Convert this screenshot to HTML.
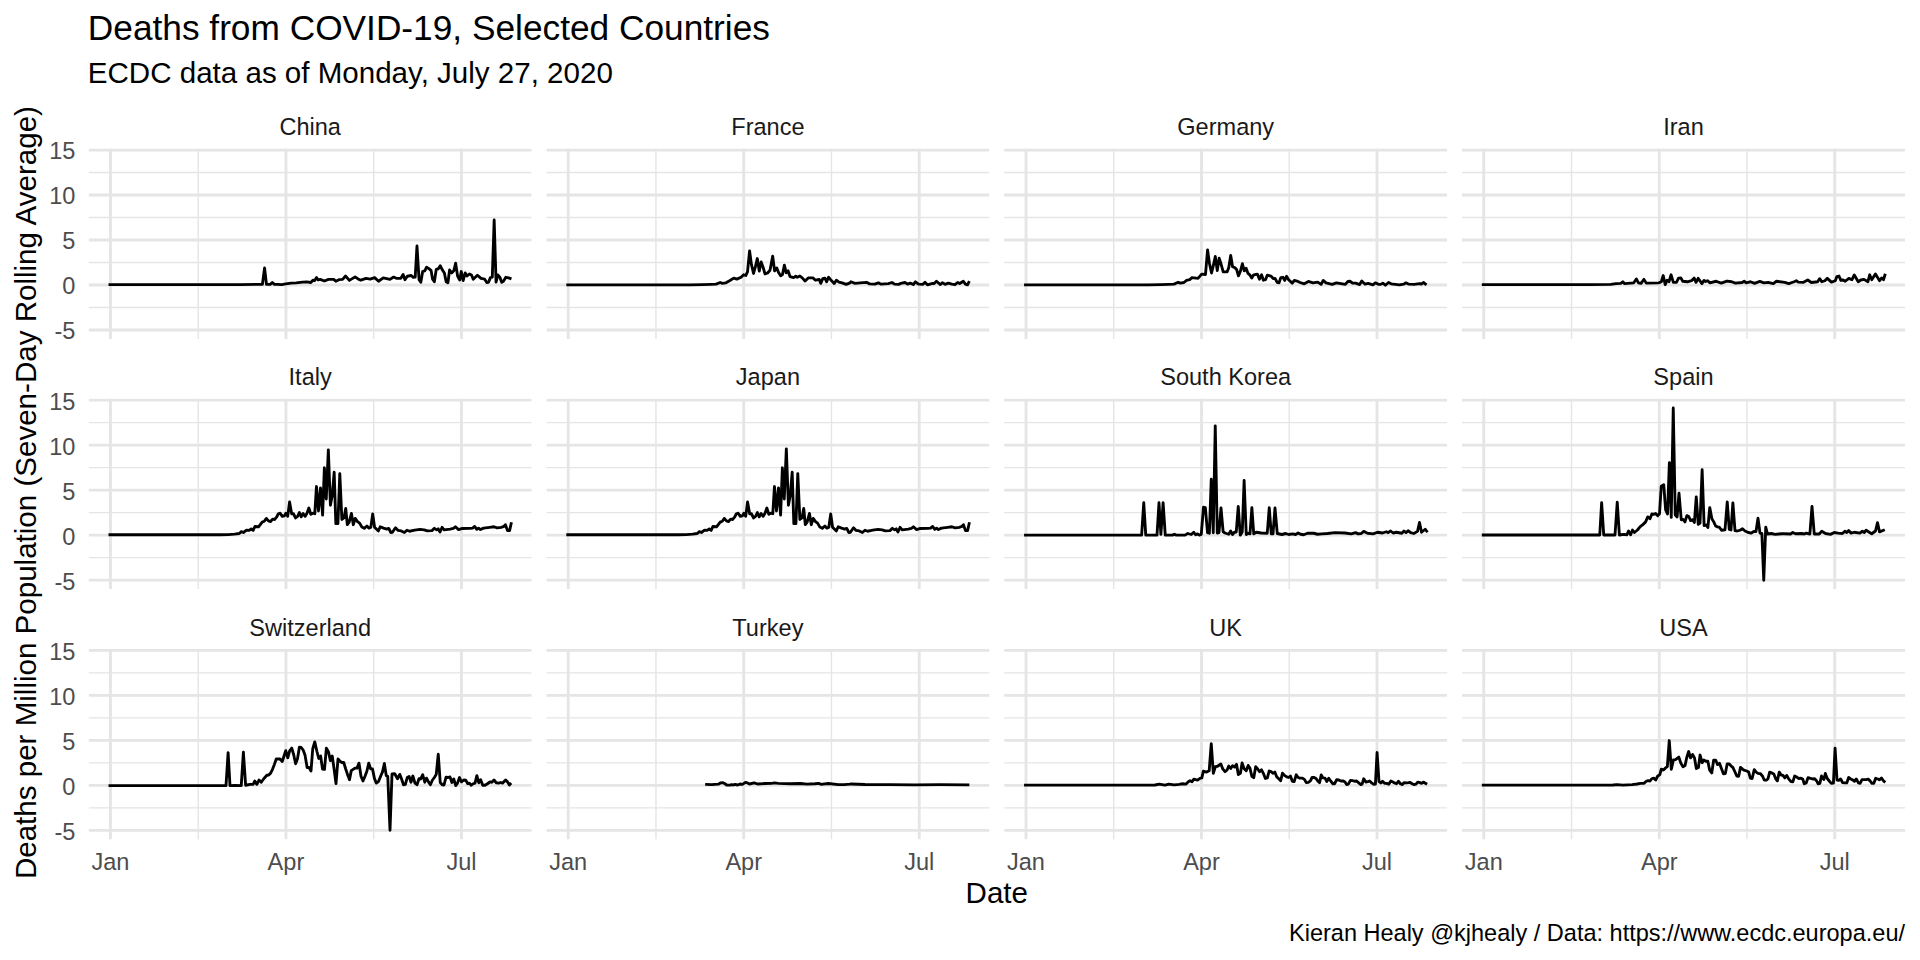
<!DOCTYPE html><html><head><meta charset="utf-8"><title>Deaths from COVID-19, Selected Countries</title>
<style>html,body{margin:0;padding:0;background:#fff}body{width:1920px;height:960px;overflow:hidden}svg{display:block}text{font-family:"Liberation Sans",Arial,Helvetica,sans-serif}</style></head><body>
<svg width="1920" height="960" viewBox="0 0 1920 960">
<rect width="1920" height="960" fill="#fff"/>
<text x="87.8" y="40" font-size="35.27" fill="#000">Deaths from COVID-19, Selected Countries</text>
<text x="87.8" y="83" font-size="29.55" fill="#000">ECDC data as of Monday, July 27, 2020</text>
<text transform="translate(36,492.6) rotate(-90)" text-anchor="middle" font-size="29.55" fill="#000">Deaths per Million Population (Seven-Day Rolling Average)</text>
<text x="996.8" y="902.7" text-anchor="middle" font-size="29.55" fill="#000">Date</text>
<text x="1905.0" y="941" text-anchor="end" font-size="23.52" fill="#000">Kieran Healy @kjhealy / Data: https://www.ecdc.europa.eu/</text>
<text x="75.4" y="159.35" text-anchor="end" font-size="23.55" fill="#4D4D4D">15</text>
<text x="75.4" y="204.35" text-anchor="end" font-size="23.55" fill="#4D4D4D">10</text>
<text x="75.4" y="249.35" text-anchor="end" font-size="23.55" fill="#4D4D4D">5</text>
<text x="75.4" y="294.35" text-anchor="end" font-size="23.55" fill="#4D4D4D">0</text>
<text x="75.4" y="339.35" text-anchor="end" font-size="23.55" fill="#4D4D4D">-5</text>
<g>
<clipPath id="cp0"><rect x="88.60" y="148.42" width="443.10" height="190.71"/></clipPath>
<g clip-path="url(#cp0)">
<line x1="88.60" x2="531.70" y1="172.45" y2="172.45" stroke="#E5E5E5" stroke-width="1.42"/>
<line x1="88.60" x2="531.70" y1="217.45" y2="217.45" stroke="#E5E5E5" stroke-width="1.42"/>
<line x1="88.60" x2="531.70" y1="262.45" y2="262.45" stroke="#E5E5E5" stroke-width="1.42"/>
<line x1="88.60" x2="531.70" y1="307.45" y2="307.45" stroke="#E5E5E5" stroke-width="1.42"/>
<line x1="198.20" x2="198.20" y1="148.42" y2="339.13" stroke="#E5E5E5" stroke-width="1.42"/>
<line x1="373.70" x2="373.70" y1="148.42" y2="339.13" stroke="#E5E5E5" stroke-width="1.42"/>
<line x1="88.60" x2="531.70" y1="149.95" y2="149.95" stroke="#E5E5E5" stroke-width="2.85"/>
<line x1="88.60" x2="531.70" y1="194.95" y2="194.95" stroke="#E5E5E5" stroke-width="2.85"/>
<line x1="88.60" x2="531.70" y1="239.95" y2="239.95" stroke="#E5E5E5" stroke-width="2.85"/>
<line x1="88.60" x2="531.70" y1="284.95" y2="284.95" stroke="#E5E5E5" stroke-width="2.85"/>
<line x1="88.60" x2="531.70" y1="329.95" y2="329.95" stroke="#E5E5E5" stroke-width="2.85"/>
<line x1="110.45" x2="110.45" y1="148.42" y2="339.13" stroke="#E5E5E5" stroke-width="2.85"/>
<line x1="285.95" x2="285.95" y1="148.42" y2="339.13" stroke="#E5E5E5" stroke-width="2.85"/>
<line x1="461.45" x2="461.45" y1="148.42" y2="339.13" stroke="#E5E5E5" stroke-width="2.85"/>
<polyline points="108.52,284.58 240.00,284.58 262.40,284.37 264.58,267.90 266.46,284.37 270.21,284.37 272.29,282.50 274.38,284.37 277.50,284.37 281.67,284.58 285.83,283.96 291.04,283.12 296.25,282.92 302.50,282.08 306.67,281.87 310.83,282.50 312.92,280.21 314.48,280.73 316.56,277.61 318.13,280.00 320.21,279.38 324.38,281.04 328.54,279.38 333.75,279.38 335.83,281.25 338.96,279.69 342.60,279.38 345.52,276.04 349.38,280.41 355.10,276.88 358.75,279.38 360.83,280.21 366.04,278.33 370.21,279.16 374.69,277.61 378.54,281.25 383.23,277.92 390.00,279.38 393.65,277.08 396.25,278.33 400.00,278.33 400.83,278.33 403.13,274.48 405.00,279.69 407.29,276.25 411.25,275.52 413.33,277.29 415.21,277.08 416.98,246.03 419.06,279.69 420.83,282.30 422.71,271.35 424.79,270.83 426.56,267.18 428.96,268.75 431.04,270.32 432.60,279.16 434.38,281.77 436.25,269.27 438.33,268.75 440.21,265.63 442.29,269.79 444.38,272.92 446.15,281.77 447.92,282.82 449.58,270.00 451.67,272.92 453.75,270.83 455.63,263.22 457.60,276.04 459.69,280.00 461.25,271.55 463.13,280.53 465.21,272.92 466.98,276.04 469.38,273.96 471.46,275.00 473.23,279.16 477.40,275.21 481.04,278.33 484.69,279.16 486.77,282.50 488.54,282.30 490.42,277.61 492.29,277.08 494.17,219.99 496.04,282.10 497.92,275.00 499.79,277.08 501.67,282.30 503.44,281.25 505.83,277.29 508.65,277.92 511.46,278.96" fill="none" stroke="#000" stroke-width="2.85" stroke-linejoin="round" stroke-linecap="butt"/>
</g>
<text x="310.15" y="134.82" text-anchor="middle" font-size="23.55" fill="#1A1A1A">China</text>
</g>
<g>
<clipPath id="cp1"><rect x="546.37" y="148.42" width="443.10" height="190.71"/></clipPath>
<g clip-path="url(#cp1)">
<line x1="546.37" x2="989.47" y1="172.45" y2="172.45" stroke="#E5E5E5" stroke-width="1.42"/>
<line x1="546.37" x2="989.47" y1="217.45" y2="217.45" stroke="#E5E5E5" stroke-width="1.42"/>
<line x1="546.37" x2="989.47" y1="262.45" y2="262.45" stroke="#E5E5E5" stroke-width="1.42"/>
<line x1="546.37" x2="989.47" y1="307.45" y2="307.45" stroke="#E5E5E5" stroke-width="1.42"/>
<line x1="655.97" x2="655.97" y1="148.42" y2="339.13" stroke="#E5E5E5" stroke-width="1.42"/>
<line x1="831.47" x2="831.47" y1="148.42" y2="339.13" stroke="#E5E5E5" stroke-width="1.42"/>
<line x1="546.37" x2="989.47" y1="149.95" y2="149.95" stroke="#E5E5E5" stroke-width="2.85"/>
<line x1="546.37" x2="989.47" y1="194.95" y2="194.95" stroke="#E5E5E5" stroke-width="2.85"/>
<line x1="546.37" x2="989.47" y1="239.95" y2="239.95" stroke="#E5E5E5" stroke-width="2.85"/>
<line x1="546.37" x2="989.47" y1="284.95" y2="284.95" stroke="#E5E5E5" stroke-width="2.85"/>
<line x1="546.37" x2="989.47" y1="329.95" y2="329.95" stroke="#E5E5E5" stroke-width="2.85"/>
<line x1="568.22" x2="568.22" y1="148.42" y2="339.13" stroke="#E5E5E5" stroke-width="2.85"/>
<line x1="743.72" x2="743.72" y1="148.42" y2="339.13" stroke="#E5E5E5" stroke-width="2.85"/>
<line x1="919.22" x2="919.22" y1="148.42" y2="339.13" stroke="#E5E5E5" stroke-width="2.85"/>
<polyline points="566.29,284.90 690.00,284.90 702.50,284.69 710.83,284.37 716.04,284.17 720.21,282.50 722.29,283.33 725.94,282.82 729.58,280.73 733.75,278.13 736.87,279.16 741.04,277.29 743.65,274.79 745.73,275.52 747.50,271.87 749.58,250.93 751.46,264.58 753.54,273.45 755.42,266.67 757.29,258.53 759.27,271.15 761.15,261.98 762.92,266.67 765.00,273.96 767.60,272.92 770.00,270.32 772.71,256.14 774.58,270.83 776.67,267.91 778.54,272.39 780.62,275.83 782.50,274.48 784.37,265.10 786.25,272.92 788.12,270.83 790.00,276.56 793.65,277.61 795.73,276.25 797.29,277.29 799.90,276.04 801.98,277.61 805.10,281.04 808.23,277.92 812.92,277.92 815.52,280.21 819.17,279.38 820.73,283.33 822.81,278.65 824.90,278.13 826.67,281.77 828.54,277.29 830.62,279.69 834.27,283.55 836.35,280.21 838.96,282.08 842.08,282.82 846.25,284.37 850.00,282.82 850.83,281.77 855.00,283.33 860.21,282.82 866.46,282.30 869.58,283.85 874.79,284.17 878.44,282.82 881.04,284.17 888.33,283.55 891.98,282.50 894.58,284.17 898.75,284.37 900.83,283.33 905.00,282.50 907.60,284.17 910.21,283.12 913.33,284.58 915.42,281.77 918.54,284.17 922.71,284.37 925.00,282.30 927.40,284.90 932.60,283.33 934.17,283.55 936.46,281.25 940.42,284.58 942.29,282.82 945.10,284.37 948.23,283.12 951.87,284.17 955.00,284.58 957.60,282.50 959.69,283.55 963.33,281.25 965.42,284.17 967.50,284.90 969.37,281.04" fill="none" stroke="#000" stroke-width="2.85" stroke-linejoin="round" stroke-linecap="butt"/>
</g>
<text x="767.92" y="134.82" text-anchor="middle" font-size="23.55" fill="#1A1A1A">France</text>
</g>
<g>
<clipPath id="cp2"><rect x="1004.14" y="148.42" width="443.10" height="190.71"/></clipPath>
<g clip-path="url(#cp2)">
<line x1="1004.14" x2="1447.24" y1="172.45" y2="172.45" stroke="#E5E5E5" stroke-width="1.42"/>
<line x1="1004.14" x2="1447.24" y1="217.45" y2="217.45" stroke="#E5E5E5" stroke-width="1.42"/>
<line x1="1004.14" x2="1447.24" y1="262.45" y2="262.45" stroke="#E5E5E5" stroke-width="1.42"/>
<line x1="1004.14" x2="1447.24" y1="307.45" y2="307.45" stroke="#E5E5E5" stroke-width="1.42"/>
<line x1="1113.74" x2="1113.74" y1="148.42" y2="339.13" stroke="#E5E5E5" stroke-width="1.42"/>
<line x1="1289.24" x2="1289.24" y1="148.42" y2="339.13" stroke="#E5E5E5" stroke-width="1.42"/>
<line x1="1004.14" x2="1447.24" y1="149.95" y2="149.95" stroke="#E5E5E5" stroke-width="2.85"/>
<line x1="1004.14" x2="1447.24" y1="194.95" y2="194.95" stroke="#E5E5E5" stroke-width="2.85"/>
<line x1="1004.14" x2="1447.24" y1="239.95" y2="239.95" stroke="#E5E5E5" stroke-width="2.85"/>
<line x1="1004.14" x2="1447.24" y1="284.95" y2="284.95" stroke="#E5E5E5" stroke-width="2.85"/>
<line x1="1004.14" x2="1447.24" y1="329.95" y2="329.95" stroke="#E5E5E5" stroke-width="2.85"/>
<line x1="1025.99" x2="1025.99" y1="148.42" y2="339.13" stroke="#E5E5E5" stroke-width="2.85"/>
<line x1="1201.49" x2="1201.49" y1="148.42" y2="339.13" stroke="#E5E5E5" stroke-width="2.85"/>
<line x1="1376.99" x2="1376.99" y1="148.42" y2="339.13" stroke="#E5E5E5" stroke-width="2.85"/>
<polyline points="1024.06,284.90 1148.00,284.90 1160.50,284.69 1168.83,284.37 1174.04,284.17 1178.21,282.30 1180.29,283.12 1183.94,282.50 1186.54,280.41 1189.67,279.69 1191.96,277.61 1198.00,278.33 1201.65,274.17 1205.50,274.48 1207.58,249.89 1209.46,263.54 1211.54,273.03 1213.42,265.11 1215.29,256.45 1217.27,270.63 1219.15,258.12 1220.92,263.54 1223.21,271.87 1227.17,271.87 1228.73,267.71 1230.71,255.41 1232.58,266.67 1234.98,267.71 1236.75,269.79 1238.42,275.83 1240.50,270.83 1242.37,263.74 1244.25,270.83 1246.12,268.23 1248.00,273.44 1250.08,275.21 1251.75,278.13 1253.73,274.79 1257.37,274.17 1259.46,279.16 1261.54,274.79 1263.42,280.21 1265.50,279.69 1267.27,275.21 1270.92,276.04 1273.52,278.65 1275.08,278.33 1277.17,282.30 1279.04,282.82 1280.81,277.61 1282.90,277.29 1284.67,280.41 1286.54,276.25 1288.62,279.69 1292.27,283.12 1294.35,280.41 1296.96,281.04 1300.08,282.50 1304.25,283.85 1308.00,281.77 1308.31,281.46 1313.00,282.82 1317.69,282.08 1321.12,284.37 1323.21,280.41 1326.02,282.82 1332.27,284.37 1336.44,282.82 1345.29,284.37 1347.90,281.46 1349.98,281.25 1352.58,283.12 1355.71,283.12 1359.67,284.58 1361.75,281.04 1365.08,284.17 1368.21,283.33 1372.90,284.90 1375.29,282.82 1378.62,284.37 1380.71,284.37 1382.79,283.12 1385.40,285.21 1388.52,282.50 1391.12,283.85 1399.46,284.90 1403.62,284.17 1405.92,282.82 1408.83,284.17 1414.04,284.37 1419.77,283.55 1421.33,284.17 1423.42,282.50 1426.54,284.90" fill="none" stroke="#000" stroke-width="2.85" stroke-linejoin="round" stroke-linecap="butt"/>
</g>
<text x="1225.69" y="134.82" text-anchor="middle" font-size="23.55" fill="#1A1A1A">Germany</text>
</g>
<g>
<clipPath id="cp3"><rect x="1461.91" y="148.42" width="443.10" height="190.71"/></clipPath>
<g clip-path="url(#cp3)">
<line x1="1461.91" x2="1905.01" y1="172.45" y2="172.45" stroke="#E5E5E5" stroke-width="1.42"/>
<line x1="1461.91" x2="1905.01" y1="217.45" y2="217.45" stroke="#E5E5E5" stroke-width="1.42"/>
<line x1="1461.91" x2="1905.01" y1="262.45" y2="262.45" stroke="#E5E5E5" stroke-width="1.42"/>
<line x1="1461.91" x2="1905.01" y1="307.45" y2="307.45" stroke="#E5E5E5" stroke-width="1.42"/>
<line x1="1571.51" x2="1571.51" y1="148.42" y2="339.13" stroke="#E5E5E5" stroke-width="1.42"/>
<line x1="1747.01" x2="1747.01" y1="148.42" y2="339.13" stroke="#E5E5E5" stroke-width="1.42"/>
<line x1="1461.91" x2="1905.01" y1="149.95" y2="149.95" stroke="#E5E5E5" stroke-width="2.85"/>
<line x1="1461.91" x2="1905.01" y1="194.95" y2="194.95" stroke="#E5E5E5" stroke-width="2.85"/>
<line x1="1461.91" x2="1905.01" y1="239.95" y2="239.95" stroke="#E5E5E5" stroke-width="2.85"/>
<line x1="1461.91" x2="1905.01" y1="284.95" y2="284.95" stroke="#E5E5E5" stroke-width="2.85"/>
<line x1="1461.91" x2="1905.01" y1="329.95" y2="329.95" stroke="#E5E5E5" stroke-width="2.85"/>
<line x1="1483.76" x2="1483.76" y1="148.42" y2="339.13" stroke="#E5E5E5" stroke-width="2.85"/>
<line x1="1659.26" x2="1659.26" y1="148.42" y2="339.13" stroke="#E5E5E5" stroke-width="2.85"/>
<line x1="1834.76" x2="1834.76" y1="148.42" y2="339.13" stroke="#E5E5E5" stroke-width="2.85"/>
<polyline points="1481.83,284.58 1590.00,284.58 1610.83,284.37 1616.04,283.55 1620.73,283.33 1622.81,281.77 1624.38,283.55 1633.75,282.82 1636.35,278.96 1638.44,282.82 1641.04,283.33 1643.96,279.38 1646.25,283.12 1658.75,282.82 1661.35,281.77 1663.23,275.52 1665.21,284.58 1667.08,280.21 1668.96,281.77 1671.04,274.79 1673.33,282.30 1676.46,282.30 1678.54,278.13 1680.83,277.92 1682.71,281.25 1687.40,281.77 1691.56,280.73 1694.17,278.13 1696.04,282.30 1698.13,278.33 1701.98,283.55 1704.06,280.41 1705.63,281.46 1707.71,280.73 1709.79,282.82 1716.04,281.25 1721.25,283.12 1726.98,281.04 1731.67,281.77 1735.31,283.12 1742.08,282.50 1744.17,281.25 1746.25,282.82 1750.00,281.77 1750.42,281.77 1754.58,283.33 1759.79,281.46 1763.96,282.82 1768.13,282.30 1773.33,283.55 1776.46,281.25 1784.79,282.30 1788.75,283.55 1794.17,281.77 1796.25,280.73 1798.33,282.08 1803.54,282.30 1807.71,280.00 1811.35,282.50 1817.60,281.77 1819.69,278.65 1821.77,281.77 1824.90,280.73 1827.29,278.33 1831.46,282.08 1835.31,280.73 1836.88,276.56 1838.96,276.04 1840.83,280.41 1843.13,280.00 1845.21,281.25 1848.85,278.33 1851.98,279.69 1854.27,275.00 1858.23,281.77 1860.83,280.00 1863.96,279.38 1867.92,281.77 1869.69,274.79 1871.77,279.69 1875.42,273.96 1879.58,280.73 1881.67,277.92 1883.54,279.69 1885.31,273.75" fill="none" stroke="#000" stroke-width="2.85" stroke-linejoin="round" stroke-linecap="butt"/>
</g>
<text x="1683.46" y="134.82" text-anchor="middle" font-size="23.55" fill="#1A1A1A">Iran</text>
</g>
<text x="75.4" y="409.55" text-anchor="end" font-size="23.55" fill="#4D4D4D">15</text>
<text x="75.4" y="454.55" text-anchor="end" font-size="23.55" fill="#4D4D4D">10</text>
<text x="75.4" y="499.55" text-anchor="end" font-size="23.55" fill="#4D4D4D">5</text>
<text x="75.4" y="544.55" text-anchor="end" font-size="23.55" fill="#4D4D4D">0</text>
<text x="75.4" y="589.55" text-anchor="end" font-size="23.55" fill="#4D4D4D">-5</text>
<g>
<clipPath id="cp4"><rect x="88.60" y="398.62" width="443.10" height="190.71"/></clipPath>
<g clip-path="url(#cp4)">
<line x1="88.60" x2="531.70" y1="422.65" y2="422.65" stroke="#E5E5E5" stroke-width="1.42"/>
<line x1="88.60" x2="531.70" y1="467.65" y2="467.65" stroke="#E5E5E5" stroke-width="1.42"/>
<line x1="88.60" x2="531.70" y1="512.65" y2="512.65" stroke="#E5E5E5" stroke-width="1.42"/>
<line x1="88.60" x2="531.70" y1="557.65" y2="557.65" stroke="#E5E5E5" stroke-width="1.42"/>
<line x1="198.20" x2="198.20" y1="398.62" y2="589.33" stroke="#E5E5E5" stroke-width="1.42"/>
<line x1="373.70" x2="373.70" y1="398.62" y2="589.33" stroke="#E5E5E5" stroke-width="1.42"/>
<line x1="88.60" x2="531.70" y1="400.15" y2="400.15" stroke="#E5E5E5" stroke-width="2.85"/>
<line x1="88.60" x2="531.70" y1="445.15" y2="445.15" stroke="#E5E5E5" stroke-width="2.85"/>
<line x1="88.60" x2="531.70" y1="490.15" y2="490.15" stroke="#E5E5E5" stroke-width="2.85"/>
<line x1="88.60" x2="531.70" y1="535.15" y2="535.15" stroke="#E5E5E5" stroke-width="2.85"/>
<line x1="88.60" x2="531.70" y1="580.15" y2="580.15" stroke="#E5E5E5" stroke-width="2.85"/>
<line x1="110.45" x2="110.45" y1="398.62" y2="589.33" stroke="#E5E5E5" stroke-width="2.85"/>
<line x1="285.95" x2="285.95" y1="398.62" y2="589.33" stroke="#E5E5E5" stroke-width="2.85"/>
<line x1="461.45" x2="461.45" y1="398.62" y2="589.33" stroke="#E5E5E5" stroke-width="2.85"/>
<polyline points="108.52,534.79 220.00,534.79 228.33,534.58 234.58,534.06 239.27,533.54 241.35,531.67 243.44,532.50 246.56,530.21 249.17,530.42 251.25,528.85 253.13,530.42 254.90,526.46 258.54,526.77 262.19,522.08 264.27,521.25 266.35,518.44 268.44,520.83 270.52,521.56 272.60,519.17 274.69,519.48 276.77,516.87 278.33,513.75 280.21,513.23 282.29,516.36 284.38,515.84 285.83,513.23 287.71,516.36 289.58,501.97 291.67,513.75 293.44,513.75 295.52,517.91 297.60,516.36 299.38,512.50 301.25,516.87 303.13,513.54 305.21,516.36 306.98,513.23 308.85,508.02 310.83,514.27 312.92,513.23 314.79,513.75 316.46,486.55 318.44,510.95 320.52,487.91 322.60,515.12 324.38,467.80 326.25,498.97 328.33,449.88 330.42,505.22 332.29,495.00 334.17,472.28 335.83,523.65 337.92,523.65 339.79,473.63 341.88,519.48 343.96,517.91 345.73,508.43 347.29,524.69 349.17,522.08 351.46,513.42 353.33,524.69 355.21,518.44 357.50,521.56 359.58,523.13 361.88,527.09 364.27,528.34 366.88,526.04 368.96,528.12 370.83,527.29 372.71,513.95 374.58,527.29 378.33,530.94 380.21,526.77 383.54,528.12 386.67,529.16 388.75,528.34 390.83,532.50 392.40,532.29 395.52,527.81 398.13,530.42 401.25,530.94 404.38,532.50 406.98,530.21 409.58,531.25 414.79,530.21 420.00,529.37 424.17,529.89 427.29,530.94 431.98,530.62 434.38,528.34 436.67,529.89 438.23,528.85 440.00,531.98 442.08,527.29 444.17,529.89 450.21,529.16 453.33,528.34 455.42,526.77 458.54,529.58 461.67,528.54 470.00,528.34 472.60,528.12 474.69,526.46 476.77,529.37 478.54,528.12 480.42,529.58 483.54,528.12 489.79,527.29 493.96,526.77 497.08,527.81 501.25,527.29 503.85,526.46 505.42,524.69 507.50,530.62 509.58,530.62 511.46,522.29" fill="none" stroke="#000" stroke-width="2.85" stroke-linejoin="round" stroke-linecap="butt"/>
</g>
<text x="310.15" y="385.02" text-anchor="middle" font-size="23.55" fill="#1A1A1A">Italy</text>
</g>
<g>
<clipPath id="cp5"><rect x="546.37" y="398.62" width="443.10" height="190.71"/></clipPath>
<g clip-path="url(#cp5)">
<line x1="546.37" x2="989.47" y1="422.65" y2="422.65" stroke="#E5E5E5" stroke-width="1.42"/>
<line x1="546.37" x2="989.47" y1="467.65" y2="467.65" stroke="#E5E5E5" stroke-width="1.42"/>
<line x1="546.37" x2="989.47" y1="512.65" y2="512.65" stroke="#E5E5E5" stroke-width="1.42"/>
<line x1="546.37" x2="989.47" y1="557.65" y2="557.65" stroke="#E5E5E5" stroke-width="1.42"/>
<line x1="655.97" x2="655.97" y1="398.62" y2="589.33" stroke="#E5E5E5" stroke-width="1.42"/>
<line x1="831.47" x2="831.47" y1="398.62" y2="589.33" stroke="#E5E5E5" stroke-width="1.42"/>
<line x1="546.37" x2="989.47" y1="400.15" y2="400.15" stroke="#E5E5E5" stroke-width="2.85"/>
<line x1="546.37" x2="989.47" y1="445.15" y2="445.15" stroke="#E5E5E5" stroke-width="2.85"/>
<line x1="546.37" x2="989.47" y1="490.15" y2="490.15" stroke="#E5E5E5" stroke-width="2.85"/>
<line x1="546.37" x2="989.47" y1="535.15" y2="535.15" stroke="#E5E5E5" stroke-width="2.85"/>
<line x1="546.37" x2="989.47" y1="580.15" y2="580.15" stroke="#E5E5E5" stroke-width="2.85"/>
<line x1="568.22" x2="568.22" y1="398.62" y2="589.33" stroke="#E5E5E5" stroke-width="2.85"/>
<line x1="743.72" x2="743.72" y1="398.62" y2="589.33" stroke="#E5E5E5" stroke-width="2.85"/>
<line x1="919.22" x2="919.22" y1="398.62" y2="589.33" stroke="#E5E5E5" stroke-width="2.85"/>
<polyline points="566.29,534.79 678.00,534.79 686.33,534.58 692.58,534.06 697.27,533.54 699.35,531.67 701.44,532.50 704.56,530.21 707.17,530.42 709.25,528.85 711.12,530.42 712.90,526.46 716.54,526.77 720.19,522.08 722.27,521.25 724.35,518.44 726.44,520.83 728.52,521.56 730.60,519.17 732.69,519.48 734.77,516.87 736.33,513.75 738.21,513.23 740.29,516.36 742.37,515.84 743.83,513.23 745.71,516.36 747.58,501.97 749.67,513.75 751.44,513.75 753.52,517.91 755.60,516.36 757.37,512.50 759.25,516.87 761.12,513.54 763.21,516.36 764.98,513.23 766.85,508.02 768.83,514.27 770.92,513.23 772.79,513.75 774.46,486.55 776.44,510.95 778.52,487.91 780.60,515.12 782.37,467.80 784.25,498.97 786.33,448.85 788.42,505.22 790.29,495.00 792.17,472.28 793.83,523.65 795.92,523.65 797.79,473.63 799.87,519.48 801.96,517.91 803.73,508.43 805.29,524.69 807.17,522.08 809.46,513.42 811.33,524.69 813.21,518.44 815.50,521.56 817.58,523.13 819.87,527.09 822.27,528.34 824.87,526.04 826.96,528.12 828.83,527.29 830.71,513.95 832.58,527.29 836.33,530.94 838.21,526.77 841.54,528.12 844.67,529.16 846.75,528.34 848.83,532.50 850.40,532.29 853.52,527.81 856.12,530.42 859.25,530.94 862.37,532.50 864.98,530.21 867.58,531.25 872.79,530.21 878.00,529.37 882.17,529.89 885.29,530.94 889.98,530.62 892.37,528.34 894.67,529.89 896.23,528.85 898.00,531.98 900.08,527.29 902.17,529.89 908.21,529.16 911.33,528.34 913.42,526.77 916.54,529.58 919.67,528.54 928.00,528.34 930.60,528.12 932.69,526.46 934.77,529.37 936.54,528.12 938.42,529.58 941.54,528.12 947.79,527.29 951.96,526.77 955.08,527.81 959.25,527.29 961.85,526.46 963.42,524.69 965.50,530.62 967.58,530.62 969.46,522.29" fill="none" stroke="#000" stroke-width="2.85" stroke-linejoin="round" stroke-linecap="butt"/>
</g>
<text x="767.92" y="385.02" text-anchor="middle" font-size="23.55" fill="#1A1A1A">Japan</text>
</g>
<g>
<clipPath id="cp6"><rect x="1004.14" y="398.62" width="443.10" height="190.71"/></clipPath>
<g clip-path="url(#cp6)">
<line x1="1004.14" x2="1447.24" y1="422.65" y2="422.65" stroke="#E5E5E5" stroke-width="1.42"/>
<line x1="1004.14" x2="1447.24" y1="467.65" y2="467.65" stroke="#E5E5E5" stroke-width="1.42"/>
<line x1="1004.14" x2="1447.24" y1="512.65" y2="512.65" stroke="#E5E5E5" stroke-width="1.42"/>
<line x1="1004.14" x2="1447.24" y1="557.65" y2="557.65" stroke="#E5E5E5" stroke-width="1.42"/>
<line x1="1113.74" x2="1113.74" y1="398.62" y2="589.33" stroke="#E5E5E5" stroke-width="1.42"/>
<line x1="1289.24" x2="1289.24" y1="398.62" y2="589.33" stroke="#E5E5E5" stroke-width="1.42"/>
<line x1="1004.14" x2="1447.24" y1="400.15" y2="400.15" stroke="#E5E5E5" stroke-width="2.85"/>
<line x1="1004.14" x2="1447.24" y1="445.15" y2="445.15" stroke="#E5E5E5" stroke-width="2.85"/>
<line x1="1004.14" x2="1447.24" y1="490.15" y2="490.15" stroke="#E5E5E5" stroke-width="2.85"/>
<line x1="1004.14" x2="1447.24" y1="535.15" y2="535.15" stroke="#E5E5E5" stroke-width="2.85"/>
<line x1="1004.14" x2="1447.24" y1="580.15" y2="580.15" stroke="#E5E5E5" stroke-width="2.85"/>
<line x1="1025.99" x2="1025.99" y1="398.62" y2="589.33" stroke="#E5E5E5" stroke-width="2.85"/>
<line x1="1201.49" x2="1201.49" y1="398.62" y2="589.33" stroke="#E5E5E5" stroke-width="2.85"/>
<line x1="1376.99" x2="1376.99" y1="398.62" y2="589.33" stroke="#E5E5E5" stroke-width="2.85"/>
<polyline points="1024.06,535.12 1130.00,535.12 1141.62,535.12 1143.75,502.72 1145.75,535.12 1157.00,535.12 1159.00,502.72 1160.87,534.40 1163.12,502.72 1165.25,535.12 1172.50,535.12 1174.37,534.25 1176.25,535.12 1185.00,535.12 1187.75,533.50 1191.25,534.50 1193.75,532.25 1195.62,534.75 1197.50,533.87 1199.37,535.12 1201.25,534.50 1203.50,507.25 1205.37,507.63 1207.50,532.62 1209.37,533.25 1211.25,479.22 1213.25,532.78 1215.25,425.84 1217.25,533.00 1219.00,532.62 1221.00,507.97 1223.12,531.75 1225.00,533.00 1228.75,534.25 1230.62,531.00 1232.50,534.50 1234.37,532.25 1236.25,532.00 1238.25,506.47 1240.25,535.12 1242.25,532.00 1244.12,480.47 1246.25,534.50 1248.12,533.25 1250.00,533.87 1251.87,507.72 1253.75,533.87 1256.25,532.25 1261.25,533.00 1267.25,533.25 1269.25,507.72 1271.25,533.87 1273.00,533.87 1275.00,507.97 1277.25,533.50 1281.87,534.50 1285.62,533.50 1288.75,534.50 1292.50,533.87 1295.62,534.50 1298.12,533.00 1300.62,534.25 1303.75,534.75 1307.50,533.25 1313.75,533.25 1317.50,534.25 1322.00,533.87 1327.50,533.50 1335.00,532.62 1345.00,533.00 1351.25,533.87 1355.62,532.62 1358.12,533.87 1361.25,533.50 1363.75,531.38 1367.50,533.25 1373.12,533.87 1377.50,532.25 1382.50,533.00 1386.25,531.75 1388.12,532.62 1390.62,531.00 1393.12,533.00 1396.25,532.25 1401.87,533.25 1404.00,531.00 1406.00,532.62 1408.12,530.75 1410.62,532.62 1413.75,533.50 1417.50,531.38 1419.50,522.47 1421.50,532.25 1425.25,529.25 1427.50,532.25" fill="none" stroke="#000" stroke-width="2.85" stroke-linejoin="round" stroke-linecap="butt"/>
</g>
<text x="1225.69" y="385.02" text-anchor="middle" font-size="23.55" fill="#1A1A1A">South Korea</text>
</g>
<g>
<clipPath id="cp7"><rect x="1461.91" y="398.62" width="443.10" height="190.71"/></clipPath>
<g clip-path="url(#cp7)">
<line x1="1461.91" x2="1905.01" y1="422.65" y2="422.65" stroke="#E5E5E5" stroke-width="1.42"/>
<line x1="1461.91" x2="1905.01" y1="467.65" y2="467.65" stroke="#E5E5E5" stroke-width="1.42"/>
<line x1="1461.91" x2="1905.01" y1="512.65" y2="512.65" stroke="#E5E5E5" stroke-width="1.42"/>
<line x1="1461.91" x2="1905.01" y1="557.65" y2="557.65" stroke="#E5E5E5" stroke-width="1.42"/>
<line x1="1571.51" x2="1571.51" y1="398.62" y2="589.33" stroke="#E5E5E5" stroke-width="1.42"/>
<line x1="1747.01" x2="1747.01" y1="398.62" y2="589.33" stroke="#E5E5E5" stroke-width="1.42"/>
<line x1="1461.91" x2="1905.01" y1="400.15" y2="400.15" stroke="#E5E5E5" stroke-width="2.85"/>
<line x1="1461.91" x2="1905.01" y1="445.15" y2="445.15" stroke="#E5E5E5" stroke-width="2.85"/>
<line x1="1461.91" x2="1905.01" y1="490.15" y2="490.15" stroke="#E5E5E5" stroke-width="2.85"/>
<line x1="1461.91" x2="1905.01" y1="535.15" y2="535.15" stroke="#E5E5E5" stroke-width="2.85"/>
<line x1="1461.91" x2="1905.01" y1="580.15" y2="580.15" stroke="#E5E5E5" stroke-width="2.85"/>
<line x1="1483.76" x2="1483.76" y1="398.62" y2="589.33" stroke="#E5E5E5" stroke-width="2.85"/>
<line x1="1659.26" x2="1659.26" y1="398.62" y2="589.33" stroke="#E5E5E5" stroke-width="2.85"/>
<line x1="1834.76" x2="1834.76" y1="398.62" y2="589.33" stroke="#E5E5E5" stroke-width="2.85"/>
<polyline points="1481.83,535.00 1590.00,535.00 1599.75,535.00 1601.63,502.60 1603.75,535.00 1615.00,535.00 1617.25,502.22 1619.38,535.00 1623.75,534.38 1626.88,534.75 1628.50,531.00 1630.63,534.75 1632.50,530.00 1634.38,532.50 1637.50,530.00 1640.00,526.88 1643.13,524.38 1645.63,521.88 1647.75,516.87 1650.00,518.75 1651.88,514.00 1653.75,514.38 1655.63,513.50 1657.75,515.63 1659.50,513.75 1661.25,486.25 1663.75,484.75 1665.63,510.00 1667.50,514.00 1669.38,462.59 1671.25,517.40 1673.25,407.97 1675.25,515.00 1677.13,516.87 1679.00,493.22 1681.25,519.75 1683.13,519.37 1685.00,521.88 1686.88,515.63 1688.75,516.50 1690.63,520.62 1692.50,519.75 1694.38,522.50 1696.25,496.97 1698.25,524.38 1700.00,523.13 1702.13,469.72 1704.13,525.63 1706.25,525.00 1707.88,527.50 1709.75,507.59 1711.88,518.75 1713.75,521.88 1715.63,526.00 1717.50,526.88 1719.38,527.25 1721.50,530.25 1725.00,529.75 1727.25,501.97 1729.25,529.37 1731.00,530.00 1732.88,502.97 1735.00,530.62 1737.25,531.00 1740.00,530.25 1742.50,528.75 1745.00,531.00 1747.75,532.25 1751.25,533.12 1753.75,531.50 1756.00,531.50 1758.00,518.22 1760.00,533.12 1761.88,533.50 1763.75,580.28 1765.75,527.22 1767.50,534.00 1771.25,533.50 1775.00,534.38 1778.75,534.00 1782.00,533.75 1784.25,533.75 1790.50,534.00 1792.75,532.50 1795.50,533.75 1801.75,533.50 1804.25,534.00 1806.13,533.12 1809.88,534.00 1812.00,506.34 1814.25,534.00 1819.25,534.00 1821.75,531.25 1825.50,533.50 1830.50,534.38 1834.25,532.50 1838.00,533.12 1842.38,533.50 1844.88,531.25 1846.75,532.50 1848.63,530.62 1851.13,533.12 1854.25,532.25 1859.88,533.12 1862.38,531.25 1864.25,532.50 1866.13,530.25 1869.25,532.25 1871.75,533.75 1875.50,531.00 1877.50,522.60 1879.50,531.87 1884.75,529.75" fill="none" stroke="#000" stroke-width="2.85" stroke-linejoin="round" stroke-linecap="butt"/>
</g>
<text x="1683.46" y="385.02" text-anchor="middle" font-size="23.55" fill="#1A1A1A">Spain</text>
</g>
<text x="75.4" y="659.80" text-anchor="end" font-size="23.55" fill="#4D4D4D">15</text>
<text x="75.4" y="704.80" text-anchor="end" font-size="23.55" fill="#4D4D4D">10</text>
<text x="75.4" y="749.80" text-anchor="end" font-size="23.55" fill="#4D4D4D">5</text>
<text x="75.4" y="794.80" text-anchor="end" font-size="23.55" fill="#4D4D4D">0</text>
<text x="75.4" y="839.80" text-anchor="end" font-size="23.55" fill="#4D4D4D">-5</text>
<g>
<clipPath id="cp8"><rect x="88.60" y="648.87" width="443.10" height="190.71"/></clipPath>
<g clip-path="url(#cp8)">
<line x1="88.60" x2="531.70" y1="672.90" y2="672.90" stroke="#E5E5E5" stroke-width="1.42"/>
<line x1="88.60" x2="531.70" y1="717.90" y2="717.90" stroke="#E5E5E5" stroke-width="1.42"/>
<line x1="88.60" x2="531.70" y1="762.90" y2="762.90" stroke="#E5E5E5" stroke-width="1.42"/>
<line x1="88.60" x2="531.70" y1="807.90" y2="807.90" stroke="#E5E5E5" stroke-width="1.42"/>
<line x1="198.20" x2="198.20" y1="648.87" y2="839.58" stroke="#E5E5E5" stroke-width="1.42"/>
<line x1="373.70" x2="373.70" y1="648.87" y2="839.58" stroke="#E5E5E5" stroke-width="1.42"/>
<line x1="88.60" x2="531.70" y1="650.40" y2="650.40" stroke="#E5E5E5" stroke-width="2.85"/>
<line x1="88.60" x2="531.70" y1="695.40" y2="695.40" stroke="#E5E5E5" stroke-width="2.85"/>
<line x1="88.60" x2="531.70" y1="740.40" y2="740.40" stroke="#E5E5E5" stroke-width="2.85"/>
<line x1="88.60" x2="531.70" y1="785.40" y2="785.40" stroke="#E5E5E5" stroke-width="2.85"/>
<line x1="88.60" x2="531.70" y1="830.40" y2="830.40" stroke="#E5E5E5" stroke-width="2.85"/>
<line x1="110.45" x2="110.45" y1="648.87" y2="839.58" stroke="#E5E5E5" stroke-width="2.85"/>
<line x1="285.95" x2="285.95" y1="648.87" y2="839.58" stroke="#E5E5E5" stroke-width="2.85"/>
<line x1="461.45" x2="461.45" y1="648.87" y2="839.58" stroke="#E5E5E5" stroke-width="2.85"/>
<polyline points="108.52,785.62 210.00,785.62 226.00,785.62 228.12,752.60 230.00,785.62 235.00,785.37 241.25,785.62 243.38,752.22 245.63,785.25 250.00,784.37 253.13,784.37 254.75,781.00 256.88,784.37 259.00,780.00 261.25,782.25 263.75,778.75 266.88,775.25 268.75,775.00 270.63,773.12 272.50,769.37 274.38,764.38 276.25,759.00 280.00,759.00 282.25,761.50 284.00,756.00 285.75,750.62 287.75,757.75 289.75,750.62 291.75,748.12 293.75,755.00 295.63,763.75 297.50,758.75 299.38,747.25 301.25,747.50 303.13,750.00 305.00,755.00 307.13,767.50 309.00,767.50 311.00,771.00 312.75,748.75 314.75,741.88 316.88,751.25 318.75,758.50 320.63,756.00 322.50,769.00 324.50,769.37 326.38,748.12 328.50,751.88 330.38,760.62 332.25,756.00 334.13,769.37 336.00,783.65 338.00,759.00 340.00,761.25 341.88,762.50 343.75,762.50 345.63,768.75 347.50,774.38 349.50,779.75 351.25,770.62 353.13,769.37 355.00,768.13 357.00,768.13 359.00,763.12 361.00,776.25 363.00,781.00 365.00,776.25 366.88,771.25 368.75,763.12 370.63,768.75 372.50,769.00 374.38,778.13 376.25,783.12 378.50,781.50 380.63,776.25 382.50,771.87 384.38,763.47 386.25,775.63 387.75,776.25 390.00,830.28 392.00,774.00 394.75,773.75 397.50,778.75 399.75,774.38 401.50,778.75 403.50,784.75 405.38,784.37 407.25,777.50 409.13,776.50 411.00,782.25 412.88,776.00 415.00,783.12 417.00,784.75 419.00,778.75 420.63,779.00 422.75,774.75 424.75,782.25 426.50,778.13 428.50,781.87 430.38,784.75 432.50,780.00 434.38,777.50 436.25,774.38 438.25,754.22 440.25,782.50 442.25,784.75 444.00,785.00 446.00,777.25 448.13,777.50 450.00,776.88 451.88,782.50 453.75,779.00 455.75,785.62 457.50,783.12 459.50,777.50 461.50,781.87 463.75,780.00 465.75,780.25 467.75,783.75 469.38,783.12 471.25,785.25 473.13,783.75 475.00,783.12 476.88,775.72 478.75,782.75 480.63,779.75 482.75,785.25 485.00,785.25 487.50,783.75 490.00,781.87 491.88,782.25 494.00,780.00 496.25,782.75 498.75,783.12 500.63,782.50 502.50,783.12 505.63,780.00 507.50,781.87 509.38,785.00 511.25,783.12" fill="none" stroke="#000" stroke-width="2.85" stroke-linejoin="round" stroke-linecap="butt"/>
</g>
<text x="310.15" y="636.47" text-anchor="middle" font-size="23.55" fill="#1A1A1A">Switzerland</text>
<text x="110.45" y="869.7" text-anchor="middle" font-size="23.55" fill="#4D4D4D">Jan</text>
<text x="285.95" y="869.7" text-anchor="middle" font-size="23.55" fill="#4D4D4D">Apr</text>
<text x="461.45" y="869.7" text-anchor="middle" font-size="23.55" fill="#4D4D4D">Jul</text>
</g>
<g>
<clipPath id="cp9"><rect x="546.37" y="648.87" width="443.10" height="190.71"/></clipPath>
<g clip-path="url(#cp9)">
<line x1="546.37" x2="989.47" y1="672.90" y2="672.90" stroke="#E5E5E5" stroke-width="1.42"/>
<line x1="546.37" x2="989.47" y1="717.90" y2="717.90" stroke="#E5E5E5" stroke-width="1.42"/>
<line x1="546.37" x2="989.47" y1="762.90" y2="762.90" stroke="#E5E5E5" stroke-width="1.42"/>
<line x1="546.37" x2="989.47" y1="807.90" y2="807.90" stroke="#E5E5E5" stroke-width="1.42"/>
<line x1="655.97" x2="655.97" y1="648.87" y2="839.58" stroke="#E5E5E5" stroke-width="1.42"/>
<line x1="831.47" x2="831.47" y1="648.87" y2="839.58" stroke="#E5E5E5" stroke-width="1.42"/>
<line x1="546.37" x2="989.47" y1="650.40" y2="650.40" stroke="#E5E5E5" stroke-width="2.85"/>
<line x1="546.37" x2="989.47" y1="695.40" y2="695.40" stroke="#E5E5E5" stroke-width="2.85"/>
<line x1="546.37" x2="989.47" y1="740.40" y2="740.40" stroke="#E5E5E5" stroke-width="2.85"/>
<line x1="546.37" x2="989.47" y1="785.40" y2="785.40" stroke="#E5E5E5" stroke-width="2.85"/>
<line x1="546.37" x2="989.47" y1="830.40" y2="830.40" stroke="#E5E5E5" stroke-width="2.85"/>
<line x1="568.22" x2="568.22" y1="648.87" y2="839.58" stroke="#E5E5E5" stroke-width="2.85"/>
<line x1="743.72" x2="743.72" y1="648.87" y2="839.58" stroke="#E5E5E5" stroke-width="2.85"/>
<line x1="919.22" x2="919.22" y1="648.87" y2="839.58" stroke="#E5E5E5" stroke-width="2.85"/>
<polyline points="705.17,784.33 711.67,784.58 718.33,784.17 720.42,782.92 722.92,782.66 725.00,783.75 726.67,785.00 730.00,785.17 731.67,784.58 733.33,785.00 735.00,784.33 737.50,785.00 740.00,784.00 742.50,784.33 745.42,782.33 747.50,782.92 749.58,784.00 754.17,782.92 757.50,784.00 765.00,783.50 771.67,783.33 774.58,782.92 778.33,783.33 790.00,783.75 800.83,783.50 806.67,784.17 815.00,783.75 818.75,783.33 820.83,784.33 828.33,783.50 838.33,784.58 844.17,784.58 850.00,784.17 850.83,784.00 865.00,784.50 890.00,784.67 915.00,784.83 940.00,784.67 969.33,784.83" fill="none" stroke="#000" stroke-width="2.85" stroke-linejoin="round" stroke-linecap="butt"/>
</g>
<text x="767.92" y="636.47" text-anchor="middle" font-size="23.55" fill="#1A1A1A">Turkey</text>
<text x="568.22" y="869.7" text-anchor="middle" font-size="23.55" fill="#4D4D4D">Jan</text>
<text x="743.72" y="869.7" text-anchor="middle" font-size="23.55" fill="#4D4D4D">Apr</text>
<text x="919.22" y="869.7" text-anchor="middle" font-size="23.55" fill="#4D4D4D">Jul</text>
</g>
<g>
<clipPath id="cp10"><rect x="1004.14" y="648.87" width="443.10" height="190.71"/></clipPath>
<g clip-path="url(#cp10)">
<line x1="1004.14" x2="1447.24" y1="672.90" y2="672.90" stroke="#E5E5E5" stroke-width="1.42"/>
<line x1="1004.14" x2="1447.24" y1="717.90" y2="717.90" stroke="#E5E5E5" stroke-width="1.42"/>
<line x1="1004.14" x2="1447.24" y1="762.90" y2="762.90" stroke="#E5E5E5" stroke-width="1.42"/>
<line x1="1004.14" x2="1447.24" y1="807.90" y2="807.90" stroke="#E5E5E5" stroke-width="1.42"/>
<line x1="1113.74" x2="1113.74" y1="648.87" y2="839.58" stroke="#E5E5E5" stroke-width="1.42"/>
<line x1="1289.24" x2="1289.24" y1="648.87" y2="839.58" stroke="#E5E5E5" stroke-width="1.42"/>
<line x1="1004.14" x2="1447.24" y1="650.40" y2="650.40" stroke="#E5E5E5" stroke-width="2.85"/>
<line x1="1004.14" x2="1447.24" y1="695.40" y2="695.40" stroke="#E5E5E5" stroke-width="2.85"/>
<line x1="1004.14" x2="1447.24" y1="740.40" y2="740.40" stroke="#E5E5E5" stroke-width="2.85"/>
<line x1="1004.14" x2="1447.24" y1="785.40" y2="785.40" stroke="#E5E5E5" stroke-width="2.85"/>
<line x1="1004.14" x2="1447.24" y1="830.40" y2="830.40" stroke="#E5E5E5" stroke-width="2.85"/>
<line x1="1025.99" x2="1025.99" y1="648.87" y2="839.58" stroke="#E5E5E5" stroke-width="2.85"/>
<line x1="1201.49" x2="1201.49" y1="648.87" y2="839.58" stroke="#E5E5E5" stroke-width="2.85"/>
<line x1="1376.99" x2="1376.99" y1="648.87" y2="839.58" stroke="#E5E5E5" stroke-width="2.85"/>
<polyline points="1024.06,785.17 1150.00,785.17 1155.00,785.00 1159.17,784.17 1165.00,785.17 1168.75,784.17 1174.17,784.83 1179.17,784.33 1182.50,783.75 1185.83,784.17 1188.33,781.66 1190.00,780.67 1192.08,781.84 1193.75,779.16 1197.50,780.17 1200.00,778.33 1201.83,777.92 1203.33,771.25 1206.67,772.08 1209.17,770.83 1211.25,743.64 1213.33,773.33 1215.42,766.67 1217.50,766.25 1220.83,764.00 1222.92,769.16 1225.00,771.67 1227.08,770.00 1228.75,766.00 1230.67,768.50 1232.50,765.66 1234.58,767.08 1236.50,764.33 1238.33,774.58 1240.42,773.33 1242.08,762.92 1244.17,768.75 1246.25,770.83 1248.17,765.42 1250.00,768.34 1251.83,776.25 1253.75,777.67 1255.67,766.67 1257.50,768.75 1259.58,771.67 1261.50,769.83 1263.33,773.33 1265.42,778.50 1267.33,777.92 1269.17,771.00 1271.25,771.67 1272.92,773.33 1274.83,772.08 1276.67,776.67 1278.75,778.75 1280.67,780.67 1282.50,773.17 1284.58,775.42 1286.67,776.83 1288.50,777.50 1290.42,776.00 1292.33,781.25 1294.17,781.66 1296.25,774.83 1298.17,777.50 1300.00,778.16 1302.50,778.16 1304.58,779.59 1306.25,782.66 1308.33,782.33 1310.42,780.84 1312.08,777.50 1314.17,777.34 1316.25,778.75 1317.92,781.25 1319.58,782.66 1321.25,774.83 1322.92,777.92 1325.00,778.16 1326.83,781.50 1328.75,778.33 1330.83,781.25 1332.92,783.75 1334.58,783.75 1336.67,779.59 1338.75,780.00 1340.83,781.00 1342.92,780.84 1345.00,782.08 1346.67,784.58 1348.33,784.17 1350.42,780.41 1352.50,780.67 1354.58,781.25 1356.67,781.00 1358.75,782.92 1360.83,784.58 1362.08,784.17 1363.75,778.75 1365.83,782.08 1367.92,781.66 1369.58,781.00 1371.67,782.92 1373.75,784.33 1375.42,784.17 1377.08,752.55 1379.00,781.66 1380.83,782.92 1382.50,781.25 1384.58,783.33 1386.67,783.33 1388.75,784.17 1390.83,781.00 1392.92,782.08 1394.58,782.92 1396.50,783.75 1398.33,781.25 1400.42,783.75 1402.08,784.58 1404.17,782.66 1406.25,782.92 1408.33,782.66 1410.17,782.33 1412.08,783.75 1414.17,784.58 1415.83,784.17 1417.92,782.08 1420.00,782.66 1421.67,783.33 1423.75,782.08 1425.42,783.33 1427.08,784.33" fill="none" stroke="#000" stroke-width="2.85" stroke-linejoin="round" stroke-linecap="butt"/>
</g>
<text x="1225.69" y="636.47" text-anchor="middle" font-size="23.55" fill="#1A1A1A">UK</text>
<text x="1025.99" y="869.7" text-anchor="middle" font-size="23.55" fill="#4D4D4D">Jan</text>
<text x="1201.49" y="869.7" text-anchor="middle" font-size="23.55" fill="#4D4D4D">Apr</text>
<text x="1376.99" y="869.7" text-anchor="middle" font-size="23.55" fill="#4D4D4D">Jul</text>
</g>
<g>
<clipPath id="cp11"><rect x="1461.91" y="648.87" width="443.10" height="190.71"/></clipPath>
<g clip-path="url(#cp11)">
<line x1="1461.91" x2="1905.01" y1="672.90" y2="672.90" stroke="#E5E5E5" stroke-width="1.42"/>
<line x1="1461.91" x2="1905.01" y1="717.90" y2="717.90" stroke="#E5E5E5" stroke-width="1.42"/>
<line x1="1461.91" x2="1905.01" y1="762.90" y2="762.90" stroke="#E5E5E5" stroke-width="1.42"/>
<line x1="1461.91" x2="1905.01" y1="807.90" y2="807.90" stroke="#E5E5E5" stroke-width="1.42"/>
<line x1="1571.51" x2="1571.51" y1="648.87" y2="839.58" stroke="#E5E5E5" stroke-width="1.42"/>
<line x1="1747.01" x2="1747.01" y1="648.87" y2="839.58" stroke="#E5E5E5" stroke-width="1.42"/>
<line x1="1461.91" x2="1905.01" y1="650.40" y2="650.40" stroke="#E5E5E5" stroke-width="2.85"/>
<line x1="1461.91" x2="1905.01" y1="695.40" y2="695.40" stroke="#E5E5E5" stroke-width="2.85"/>
<line x1="1461.91" x2="1905.01" y1="740.40" y2="740.40" stroke="#E5E5E5" stroke-width="2.85"/>
<line x1="1461.91" x2="1905.01" y1="785.40" y2="785.40" stroke="#E5E5E5" stroke-width="2.85"/>
<line x1="1461.91" x2="1905.01" y1="830.40" y2="830.40" stroke="#E5E5E5" stroke-width="2.85"/>
<line x1="1483.76" x2="1483.76" y1="648.87" y2="839.58" stroke="#E5E5E5" stroke-width="2.85"/>
<line x1="1659.26" x2="1659.26" y1="648.87" y2="839.58" stroke="#E5E5E5" stroke-width="2.85"/>
<line x1="1834.76" x2="1834.76" y1="648.87" y2="839.58" stroke="#E5E5E5" stroke-width="2.85"/>
<polyline points="1481.83,785.17 1608.00,785.17 1613.00,785.00 1617.17,784.58 1623.00,785.17 1632.17,784.58 1637.17,784.00 1640.50,783.33 1643.83,783.33 1646.33,781.25 1648.00,780.67 1650.08,781.00 1651.75,778.75 1653.67,778.16 1655.67,780.00 1657.58,776.25 1659.83,774.58 1661.33,769.16 1663.42,770.00 1665.50,767.91 1667.33,766.67 1669.25,740.55 1671.33,769.28 1673.42,760.00 1675.50,759.58 1678.83,757.09 1680.92,763.33 1683.00,766.67 1685.08,765.42 1686.75,757.50 1688.67,751.50 1690.50,757.91 1692.58,754.58 1694.50,757.91 1696.33,768.50 1698.42,767.50 1700.08,755.05 1702.17,762.67 1703.83,760.00 1705.92,761.25 1707.83,761.25 1709.67,770.16 1711.75,772.92 1713.67,760.16 1715.67,760.16 1717.58,764.58 1719.50,763.33 1721.33,768.34 1723.42,773.75 1725.33,773.50 1727.17,764.00 1729.25,764.00 1730.92,765.83 1732.83,767.34 1734.67,771.25 1736.75,776.00 1738.67,776.25 1740.50,767.34 1742.58,769.16 1744.67,770.41 1746.75,771.00 1748.67,772.08 1750.33,778.16 1752.17,778.50 1754.25,769.59 1756.17,772.08 1758.00,773.33 1760.50,773.75 1762.58,776.25 1764.25,780.00 1766.33,780.17 1768.00,778.75 1769.67,772.08 1771.75,772.92 1773.83,774.00 1775.92,779.16 1777.33,780.84 1779.25,772.08 1781.17,775.00 1783.00,775.42 1784.83,777.92 1786.75,775.42 1788.83,779.16 1790.92,781.50 1792.83,781.84 1794.67,776.00 1796.75,777.08 1798.83,778.50 1800.92,778.16 1802.83,779.33 1804.25,783.75 1806.17,782.92 1808.00,777.67 1810.50,778.33 1812.58,779.00 1814.67,778.75 1816.50,780.67 1818.17,783.75 1819.83,783.33 1821.50,776.00 1823.83,779.59 1825.33,773.50 1827.17,778.33 1829.25,781.00 1831.33,783.33 1833.42,783.17 1835.08,748.22 1837.00,780.00 1838.83,780.41 1840.67,779.00 1842.58,782.66 1844.67,782.92 1846.75,782.92 1848.67,777.50 1850.67,779.00 1852.58,779.83 1854.50,781.25 1856.33,779.00 1858.42,782.92 1860.08,783.33 1862.00,779.59 1864.25,779.59 1866.33,779.59 1868.17,779.16 1870.08,780.84 1872.00,783.33 1873.83,783.33 1875.67,778.33 1877.83,779.00 1879.67,779.83 1881.50,777.92 1883.42,780.84 1885.33,782.33" fill="none" stroke="#000" stroke-width="2.85" stroke-linejoin="round" stroke-linecap="butt"/>
</g>
<text x="1683.46" y="636.47" text-anchor="middle" font-size="23.55" fill="#1A1A1A">USA</text>
<text x="1483.76" y="869.7" text-anchor="middle" font-size="23.55" fill="#4D4D4D">Jan</text>
<text x="1659.26" y="869.7" text-anchor="middle" font-size="23.55" fill="#4D4D4D">Apr</text>
<text x="1834.76" y="869.7" text-anchor="middle" font-size="23.55" fill="#4D4D4D">Jul</text>
</g>
</svg></body></html>
